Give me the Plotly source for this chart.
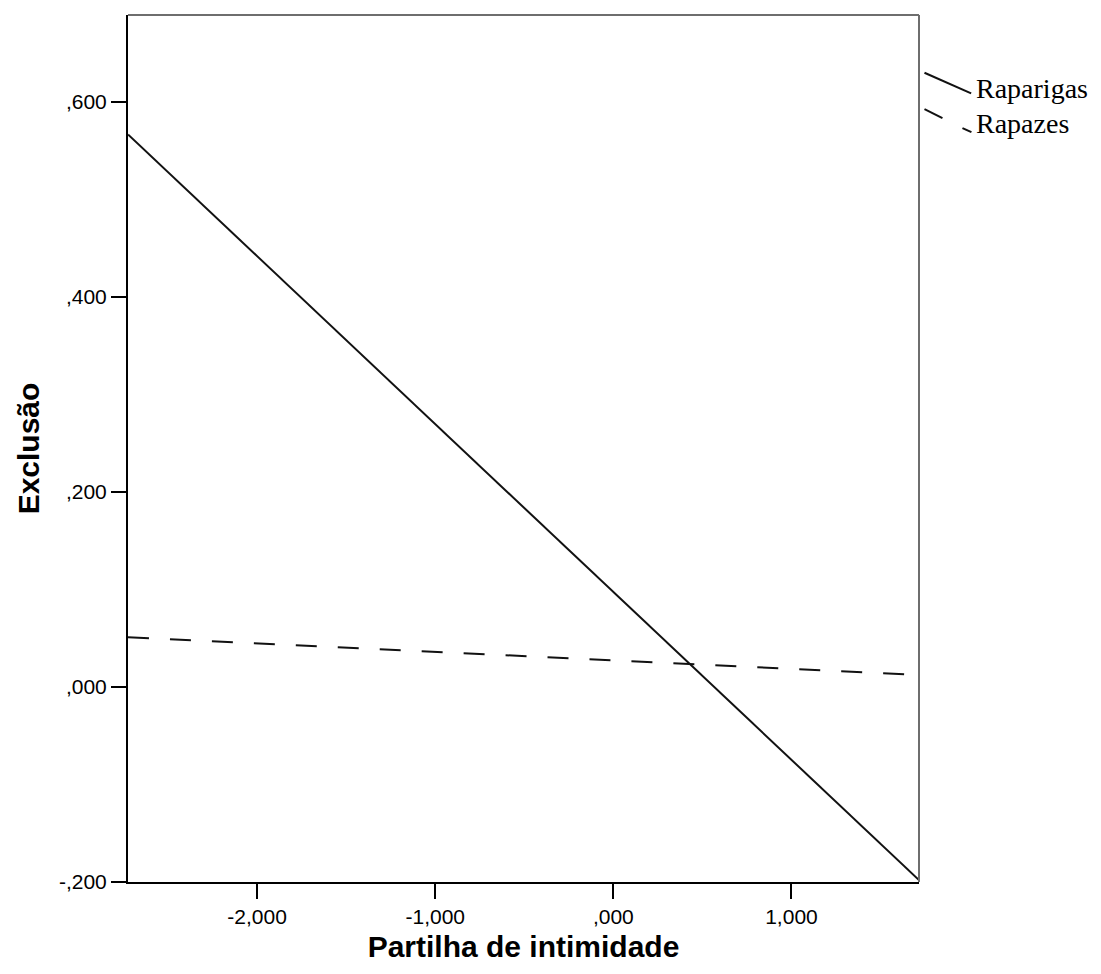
import plotly.graph_objects as go

# Data
x_ends = [-2.725, 1.716]
raparigas = [0.5665, -0.198]
rapazes = [0.051, 0.0123]
series_names = ["Raparigas", "Rapazes"]
x_tickvals = [-2, -1, 0, 1]
x_ticktext = ["-2,000", "-1,000", ",000", "1,000"]
y_tickvals = [-0.2, 0.0, 0.2, 0.4, 0.6]
y_ticktext = ["-,200", ",000", ",200", ",400", ",600"]

fig = go.Figure()
fig.add_trace(go.Scatter(x=x_ends, y=raparigas, mode="lines", name=series_names[0],
                         line=dict(color="#111111", width=2), showlegend=False))
fig.add_trace(go.Scatter(x=x_ends, y=rapazes, mode="lines", name=series_names[1],
                         line=dict(color="#111111", width=2, dash="21px,21px"), showlegend=False))

OFF = 8  # page body margin
W, H = 1101 - OFF, 974 - OFF
L, T = 127.5 - OFF, 15 - OFF
pw, ph = 792, 866.7
R = W - L - pw
B = H - T - ph

def px(xp):
    return (xp - OFF - L) / pw

def py(yp):
    return (H - B - (yp - OFF)) / ph

# frame top/right (grey)
fig.add_shape(type="line", xref="paper", yref="paper", x0=0, x1=1, y0=1, y1=1,
              line=dict(color="#6e6e6e", width=2))
fig.add_shape(type="line", xref="paper", yref="paper", x0=1, x1=1, y0=0, y1=1,
              line=dict(color="#6e6e6e", width=2))

# legend samples
fig.add_shape(type="line", xref="paper", yref="paper", x0=px(925), y0=py(72.7), x1=px(971.7), y1=py(93.3),
              line=dict(color="#111111", width=2))
fig.add_shape(type="line", xref="paper", yref="paper", x0=px(925), y0=py(109), x1=px(943), y1=py(118),
              line=dict(color="#111111", width=2))
fig.add_shape(type="line", xref="paper", yref="paper", x0=px(963), y0=py(128), x1=px(972), y1=py(132),
              line=dict(color="#111111", width=2))
fig.add_annotation(xref="paper", yref="paper", x=px(975), y=py(88), text=series_names[0],
                   showarrow=False, xanchor="left", yanchor="middle",
                   font=dict(family="Liberation Serif", size=28, color="#000"))
fig.add_annotation(xref="paper", yref="paper", x=px(975), y=py(123), text=series_names[1],
                   showarrow=False, xanchor="left", yanchor="middle",
                   font=dict(family="Liberation Serif", size=28, color="#000"))

fig.update_layout(
    width=W, height=H,
    margin=dict(l=L, r=R, t=T, b=B, pad=0),
    paper_bgcolor="white", plot_bgcolor="white",
    xaxis=dict(range=x_ends, tickvals=x_tickvals, ticktext=x_ticktext,
               showgrid=False, zeroline=False, showline=True, linecolor="#000", linewidth=2,
               ticks="outside", ticklen=15, tickwidth=2, tickcolor="#000",
               tickfont=dict(family="Liberation Sans", size=21, color="#000"),
               title=dict(text="<b>Partilha de intimidade</b>", standoff=9,
                          font=dict(family="Liberation Sans", size=30, color="#000"))),
    yaxis=dict(range=[-0.2, 0.689], tickvals=y_tickvals, ticktext=y_ticktext,
               showgrid=False, zeroline=False, showline=True, linecolor="#000", linewidth=2,
               ticks="outside", ticklen=15, tickwidth=2, tickcolor="#000",
               tickfont=dict(family="Liberation Sans", size=21, color="#000"),
               title=dict(text="<b>Exclusão</b>", standoff=10,
                          font=dict(family="Liberation Sans", size=30, color="#000"))),
)

fig.write_html("out.html")
